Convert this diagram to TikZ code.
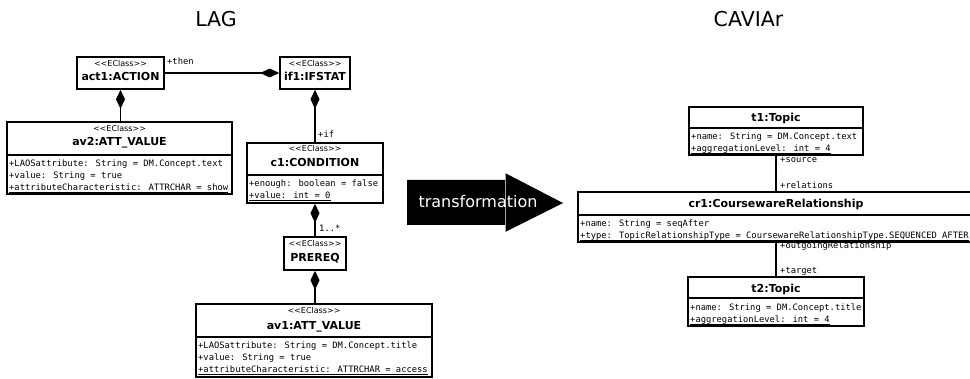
\documentclass[tikz,border=0pt]{standalone}
\usepackage{fontspec}
\setmainfont{DejaVu Sans}
\newfontfamily\monof{DejaVu Sans Mono}
\usetikzlibrary{arrows.meta}
\tikzset{
  umlbox/.style={draw, line width=1.6pt, inner sep=0pt, fill=white},
  stereo/.style={inner sep=0pt, anchor=base, font=\fontsize{8}{9}\selectfont},
  cname/.style={inner sep=0pt, anchor=base, font=\fontsize{11}{13}\selectfont\bfseries},
  attr/.style={inner sep=0pt, anchor=base west, font=\monof\fontsize{8.8}{10}\selectfont},
  rolelab/.style={inner sep=0pt, anchor=base west, font=\monof\fontsize{8.8}{10}\selectfont},
  sepline/.style={line width=1.2pt},
  ulline/.style={line width=0.8pt},
  comp/.style={line width=1.6pt, {Diamond[length=19pt,width=9pt]}-},
  plainassoc/.style={line width=1.8pt},
  titletext/.style={inner sep=0pt, anchor=base, font=\fontsize{20.5}{24}\selectfont},
}
\newcommand{\ubox}[5]{\node[umlbox, minimum width={(#4)-(#2)}, minimum height={(#5)-(#3)}] (#1) at ({((#2)+(#4))/2},{((#3)+(#5))/2}) {};}
\newcommand{\uline}[1]{\draw[ulline] ([yshift=-1.6pt]#1.base west) -- ([yshift=-1.6pt]#1.base east);}
\newcommand{\eclass}{{<}{<}EClass{>}{>}}
\begin{document}
\begin{tikzpicture}[x=1pt,y=-1pt]
\useasboundingbox (0,0) rectangle (970,379);
\clip (0,0) rectangle (970,379);

% titles
\node[titletext] (lag) at (216,27) {LAG};
\node[titletext] (caviar) at (748.5,27) {CAVIAr};

% act1
\ubox{act1}{77}{57}{164}{89}
\node[stereo] (act1s) at (120.5,67) {\eclass};
\node[cname] (act1n) at (120.5,81) {act1:ACTION};

% if1
\ubox{if1}{280}{57}{350}{89}
\node[stereo] (if1s) at (315,67) {\eclass};
\node[cname] (if1n) at (315,81) {if1:IFSTAT};

% av2
\ubox{av2}{7}{122}{232}{194}
\draw[sepline] (7,155) -- (232,155);
\node[stereo] (av2s) at (119.5,132) {\eclass};
\node[cname] (av2n) at (119.5,146) {av2:ATT\_VALUE};
\node[attr] (av2a1) at (9,167) {+LAOSattribute: String = DM.Concept.text};
\node[attr] (av2a2) at (9,179) {+value: String = true};
\node[attr] (av2a3) at (9,191) {+attributeCharacteristic: ATTRCHAR = show};
\uline{av2a3}

% c1
\ubox{c1}{247}{143}{383}{203}
\draw[sepline] (247,175) -- (383,175);
\node[stereo] (c1s) at (315,152) {\eclass};
\node[cname] (c1n) at (315,167) {c1:CONDITION};
\node[attr] (c1a1) at (249,187) {+enough: boolean = false};
\node[attr] (c1a2) at (249,199) {+value: int = 0};
\uline{c1a2}

% PREREQ
\ubox{prereq}{284}{237}{346}{270}
\node[stereo] (prereqs) at (315,247) {\eclass};
\node[cname] (prereqn) at (315,262) {PREREQ};

% av1
\ubox{av1}{196}{304}{432}{377}
\draw[sepline] (196,337) -- (432,337);
\node[stereo] (av1s) at (314,314) {\eclass};
\node[cname] (av1n) at (314,330) {av1:ATT\_VALUE};
\node[attr] (av1a1) at (198,349) {+LAOSattribute: String = DM.Concept.title};
\node[attr] (av1a2) at (198,361) {+value: String = true};
\node[attr] (av1a3) at (198,373) {+attributeCharacteristic: ATTRCHAR = access};
\uline{av1a3}

% LAG connectors
\draw[comp] (if1.west) -- (act1.east);
\draw[comp] (act1.south) -- (act1.south |- av2.north);
\draw[comp] (if1.south) -- (if1.south |- c1.north);
\draw[comp] (c1.south) -- (c1.south |- prereq.north);
\draw[comp] (prereq.south) -- (prereq.south |- av1.north);
\node[rolelab] (lthen) at (167,65) {+then};
\node[rolelab] (lif) at (318,138) {+if};
\node[rolelab] (lmult) at (319,232) {1..*};

% transformation arrow
\fill (407,180) -- (505,180) -- (505,173) -- (563,203) -- (505,232) -- (505,225) -- (407,225) -- cycle;
\draw[gray!70, line width=0.5pt] (505,173) -- (505,232);
\node[inner sep=0pt, anchor=base, text=white, font=\fontsize{16}{19}\selectfont] (trans) at (478,208) {transformation};

% t1
\ubox{t1}{689}{107}{863}{155}
\draw[sepline] (689,128) -- (863,128);
\node[cname] (t1n) at (776,122) {t1:Topic};
\node[attr] (t1a1) at (691,140) {+name: String = DM.Concept.text};
\node[attr] (t1a2) at (691,152) {+aggregationLevel: int = 4};
\uline{t1a2}

% cr1
\ubox{cr1}{578}{192}{974}{242}
\draw[sepline] (578,215) -- (974,215);
\node[cname] (cr1n) at (776,208) {cr1:CoursewareRelationship};
\node[attr] (cr1a1) at (580,227) {+name: String = seqAfter};
\node[attr] (cr1a2) at (580,238.5) {+type: TopicRelationshipType = CoursewareRelationshipType.SEQUENCED AFTER};
\uline{cr1a2}

% t2
\ubox{t2}{688}{277}{864}{326}
\draw[sepline] (688,298) -- (864,298);
\node[cname] (t2n) at (776,293) {t2:Topic};
\node[attr] (t2a1) at (690,311) {+name: String = DM.Concept.title};
\node[attr] (t2a2) at (690,322.5) {+aggregationLevel: int = 4};
\uline{t2a2}

% CAVIAr connectors
\draw[plainassoc] (t1.south) -- (t1.south |- cr1.north);
\draw[plainassoc] (cr1.south -| t2.north) -- (t2.north);
\node[rolelab] (lsource) at (780,163) {+source};
\node[rolelab] (lrel) at (780,189) {+relations};
\node[rolelab] (lout) at (780,249) {+outgoingRelationship};
\node[rolelab] (ltarget) at (780,274) {+target};
\end{tikzpicture}
\end{document}
